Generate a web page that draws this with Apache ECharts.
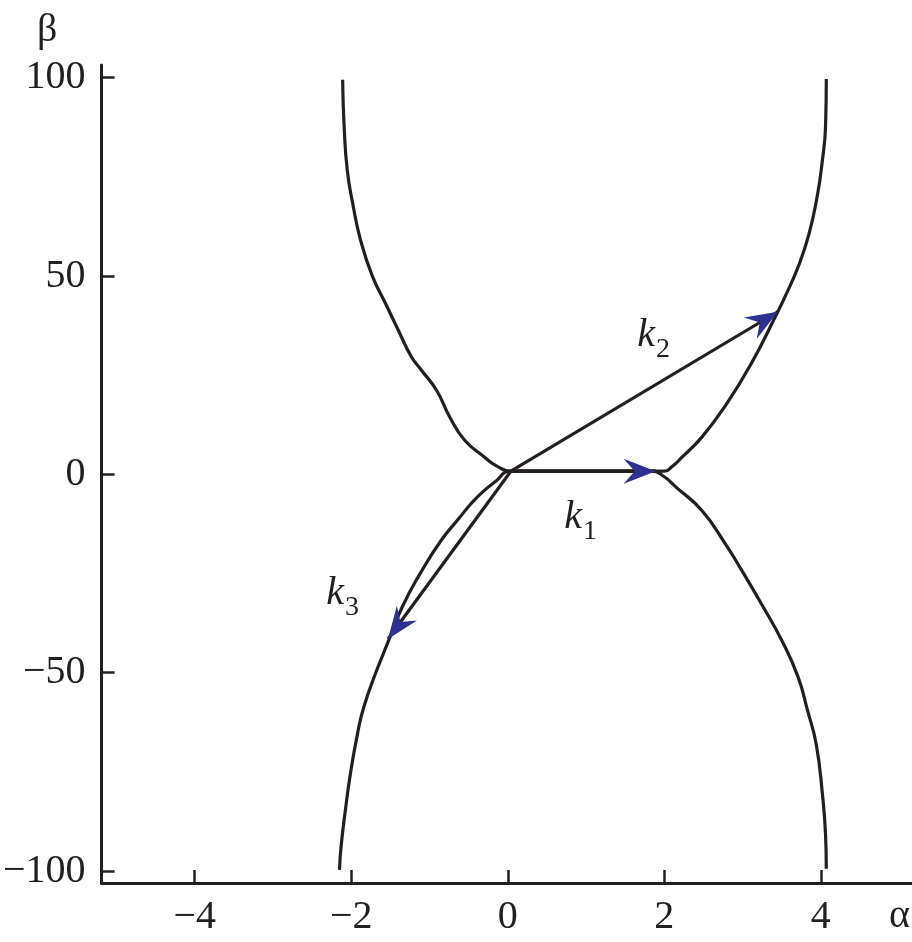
<!DOCTYPE html>
<html>
<head>
<meta charset="utf-8">
<script src="https://cdn.jsdelivr.net/npm/echarts@6/dist/echarts.min.js"></script>
<style>html,body{margin:0;padding:0;background:#fff}#c{width:912px;height:942px}</style>
</head>
<body>
<div id="c"></div>
<script>
// ---- data ----
const alphaTicks = [-4, -2, 0, 2, 4];
const betaTicks = [-100, -50, 0, 50, 100];

const upperCurve = [
  [-2.11, 99.5], [-2.09, 87.5], [-2.05, 76.6], [-1.98, 68.2], [-1.88, 59],
  [-1.73, 50], [-1.56, 43.0], [-1.40, 36.4], [-1.23, 29.6], [-1.10, 26.2],
  [-0.91, 21.2], [-0.74, 14.4], [-0.55, 8.6], [-0.30, 4.4], [-0.15, 2.2],
  [0.04, 0.8],
  [1.0, 0.8], [2.0, 0.8],
  [2.1, 2.0], [2.23, 4.4], [2.48, 9.4], [2.77, 17.0], [3.11, 27.9], [3.45, 41.0],
  [3.54, 44.7], [3.71, 52.3], [3.85, 60.7], [3.96, 70.8], [4.02, 79.2],
  [4.06, 87.5], [4.07, 99.7]
];

const lowerCurve = [
  [-2.15, -99.7], [-2.13, -93.9], [-2.07, -83.9], [-2.01, -75.4], [-1.92, -65.4],
  [-1.84, -58.7], [-1.69, -50.2], [-1.52, -41.8], [-1.35, -33.5], [-1.12, -25],
  [-0.85, -16.6], [-0.62, -11], [-0.47, -7.4], [-0.32, -4.4], [-0.17, -2.0],
  [0.04, 0.8],
  [1.0, 0.8], [1.85, 0.8],
  [2.0, -0.6], [2.15, -3.2], [2.48, -9.1], [2.78, -17.5], [2.99, -24.2],
  [3.24, -32.6], [3.50, -41.8], [3.71, -51.1], [3.83, -59.5], [3.94, -67.9],
  [4.02, -80.5], [4.06, -90.6], [4.07, -99.4]
];

// vectors: [fromAlpha, fromBeta, toAlpha, toBeta]
const vectorK1 = [0.04, 0.8, 1.89, 0.8];
const vectorK2 = [0.04, 0.8, 3.45, 41.0];
const vectorK3 = [0.04, 0.8, -1.53, -41.5];

// labels: [alpha, beta, subscript]
const vectorLabels = [
  [0.93, -10.8, '1'],
  [1.865, 35.0, '2'],
  [-2.11, -30.0, '3']
];

// ---- chart ----
const INK = '#231f20';
const BLUE = '#2e3192';
const FONT = '"Liberation Serif", "DejaVu Serif", serif';
const minus = v => String(v).replace('-', '\u2212');

const vectors = [vectorK1, vectorK2, vectorK3];

const chart = echarts.init(document.getElementById('c'), null, {renderer: 'canvas'});

const series = [
  {
    type: 'line', data: upperCurve, showSymbol: false, smooth: 0.5,
    lineStyle: {color: INK, width: 3.2}, silent: true, z: 2
  },
  {
    type: 'line', data: lowerCurve, showSymbol: false, smooth: 0.5,
    lineStyle: {color: INK, width: 3.2}, silent: true, z: 2
  }
];

vectors.forEach(v => {
  series.push({
    type: 'line', data: [[v[0], v[1]], [v[2], v[3]]], showSymbol: false,
    lineStyle: {color: INK, width: 3.2}, silent: true, z: 3
  });
});

series.push({
  type: 'custom',
  silent: true,
  z: 5,
  data: vectors,
  encode: {x: [0, 2], y: [1, 3]},
  renderItem: function (params, api) {
    const q = api.coord([api.value(0), api.value(1)]);
    const p = api.coord([api.value(2), api.value(3)]);
    const dx = p[0] - q[0], dy = p[1] - q[1];
    const len = Math.sqrt(dx * dx + dy * dy);
    const ux = dx / len, uy = dy / len;
    const nx = -uy, ny = ux;
    const L = 32, W = 12.5, N = 21;
    const pts = [
      [p[0], p[1]],
      [p[0] - L * ux + W * nx, p[1] - L * uy + W * ny],
      [p[0] - N * ux, p[1] - N * uy],
      [p[0] - L * ux - W * nx, p[1] - L * uy - W * ny]
    ];
    return {type: 'polygon', shape: {points: pts}, style: {fill: BLUE}};
  }
});

series.push({
  type: 'scatter',
  silent: true,
  symbolSize: 0,
  data: vectorLabels,
  z: 6,
  itemStyle: {color: INK, opacity: 1},
  label: {
    show: true,
    position: 'inside',
    color: INK,
    opacity: 1,
    textBorderWidth: 0,
    formatter: function (d) { return '{k|k}{s|' + d.value[2] + '}'; },
    rich: {
      k: {fontFamily: FONT, fontStyle: 'italic', fontSize: 40, color: INK, lineHeight: 40, verticalAlign: 'top', textBorderWidth: 0},
      s: {fontFamily: FONT, fontSize: 28, color: INK, lineHeight: 26, verticalAlign: 'top', padding: [20, 0, 0, 1], textBorderWidth: 0}
    }
  }
});

const option = {
  animation: false,
  backgroundColor: '#ffffff',
  grid: {left: 93, top: 65, width: 819, height: 818, containLabel: false},
  xAxis: {
    type: 'value',
    min: -5.19, max: 5.165,
    splitLine: {show: false},
    axisLine: {show: true, onZero: false, lineStyle: {color: INK, width: 3}},
    axisTick: {show: true, inside: true, length: 13, customValues: alphaTicks, lineStyle: {color: INK, width: 2.5}},
    axisLabel: {
      show: true, customValues: alphaTicks, margin: 14,
      fontFamily: FONT, fontSize: 40, color: INK,
      formatter: v => minus(v)
    }
  },
  yAxis: {
    type: 'value',
    min: -103.0, max: 103.2,
    splitLine: {show: false},
    axisLine: {show: true, onZero: false, lineStyle: {color: INK, width: 3}},
    axisTick: {show: true, inside: true, length: 13, customValues: betaTicks, lineStyle: {color: INK, width: 2.5}},
    axisLabel: {
      show: true, customValues: betaTicks, margin: 16,
      fontFamily: FONT, fontSize: 40, color: INK,
      formatter: v => minus(v)
    }
  },
  graphic: [
    {type: 'text', left: 37, top: 10, style: {text: '\u03b2', font: '40px ' + FONT, fill: INK}},
    {type: 'text', left: 889, top: 896, style: {text: '\u03b1', font: '40px ' + FONT, fill: INK}}
  ],
  series: series
};

chart.setOption(option);
</script>
</body>
</html>
